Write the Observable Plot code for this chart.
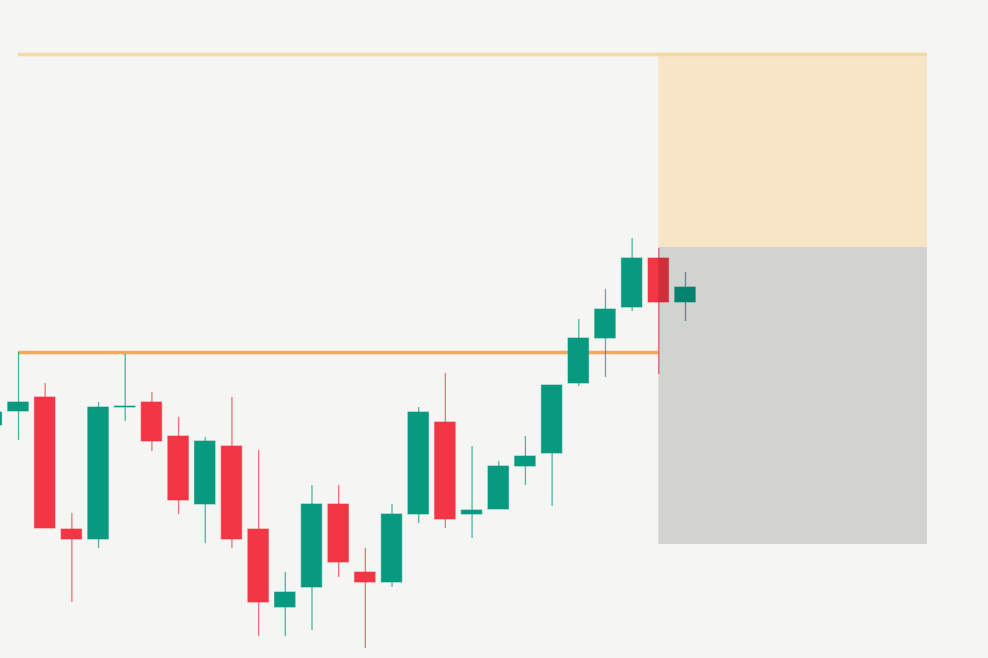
<!DOCTYPE html>
<html>
<head>
<meta charset="utf-8">
<script src="https://cdn.jsdelivr.net/npm/d3@7"></script>
<script src="https://cdn.jsdelivr.net/npm/@observablehq/plot@0.6"></script>
<style>
  html, body { margin: 0; padding: 0; background: #f5f5f3; overflow: hidden; }
  #chart svg { display: block; }
</style>
</head>
<body>
<div id="chart"></div>
<script>
// Candle index (bar number), OHLC prices
const bars   = [-1, 0, 1, 2, 3, 4, 5, 6, 7, 8, 9, 10, 11, 12, 13, 14, 15, 16, 17, 18, 19, 20, 21, 22, 23, 24, 25];
const opens  = [233, 247, 261, 129, 119, 251, 256, 222, 154, 212, 129, 51, 71, 154, 86, 76, 144, 236, 144, 149, 192, 205, 275, 320, 351, 400, 356];
const closes = [246, 256, 130, 119, 251, 252, 217, 158, 217, 119, 56, 66, 154, 96, 76, 144, 246, 139, 148, 192, 202, 273, 320, 349, 400, 356, 371];
const highs  = [250, 306, 275, 145, 256, 304, 266, 241, 221, 261, 208, 86, 173, 173, 110, 154, 251, 285, 212, 197, 222, 273, 339, 369, 420, 410, 386];
const lows   = [228, 218, 130, 56, 110, 237, 207, 144, 115, 110, 22, 22, 28, 81, 10, 71, 135, 130, 120, 149, 173, 152, 272, 281, 347, 284, 337];

// Levels and position-tool zones
const resistanceLevel = 306;   // orange line
const targetLevel = 604;       // light orange line
const zoneStart = 24;          // bar where the position tool starts
const zoneEnd = 34.07;         // bar where it ends
const entry = 411;
const stop = 114;

const candles = bars.map((i, k) => ({i, open: opens[k], close: closes[k], high: highs[k], low: lows[k]}));
const GREEN = "#089981", RED = "#f23645";
const col = d => d.close >= d.open ? GREEN : RED;

const chart = Plot.plot({
  width: 988,
  height: 658,
  margin: 0,
  style: {background: "#f5f5f3", overflow: "hidden"},
  x: {domain: [-18 / 26.68, 970 / 26.68], axis: null},
  y: {domain: [0, 658], axis: null},
  marks: [
    Plot.ruleY([targetLevel], {x1: 0, x2: zoneEnd, stroke: "#f6d9a3", strokeWidth: 3.5}),
    Plot.ruleY([resistanceLevel], {x1: 0, x2: zoneStart, stroke: "#f0a95f", strokeWidth: 3.5}),
    Plot.ruleX(candles, {x: "i", y1: "low", y2: "high", stroke: col, strokeWidth: 1.3, strokeOpacity: 0.7}),
    Plot.rect(candles, {
      x1: d => d.i - 0.385, x2: d => d.i + 0.385,
      y1: "open", y2: "close",
      fill: col, stroke: col, strokeWidth: 1, strokeOpacity: 0.6
    }),
    Plot.rect([{x1: zoneStart, x2: zoneEnd, y1: entry, y2: targetLevel}], {
      x1: "x1", x2: "x2", y1: "y1", y2: "y2", fill: "#f8e4c6"
    }),
    Plot.rect([{x1: zoneStart, x2: zoneEnd, y1: stop, y2: entry}], {
      x1: "x1", x2: "x2", y1: "y1", y2: "y2", fill: "#000000", fillOpacity: 0.14
    }),
    Plot.ruleY([targetLevel], {x1: zoneStart, x2: zoneEnd, stroke: "#f6d9a3", strokeWidth: 3.5})
  ]
});
document.getElementById("chart").appendChild(chart);
</script>
</body>
</html>
